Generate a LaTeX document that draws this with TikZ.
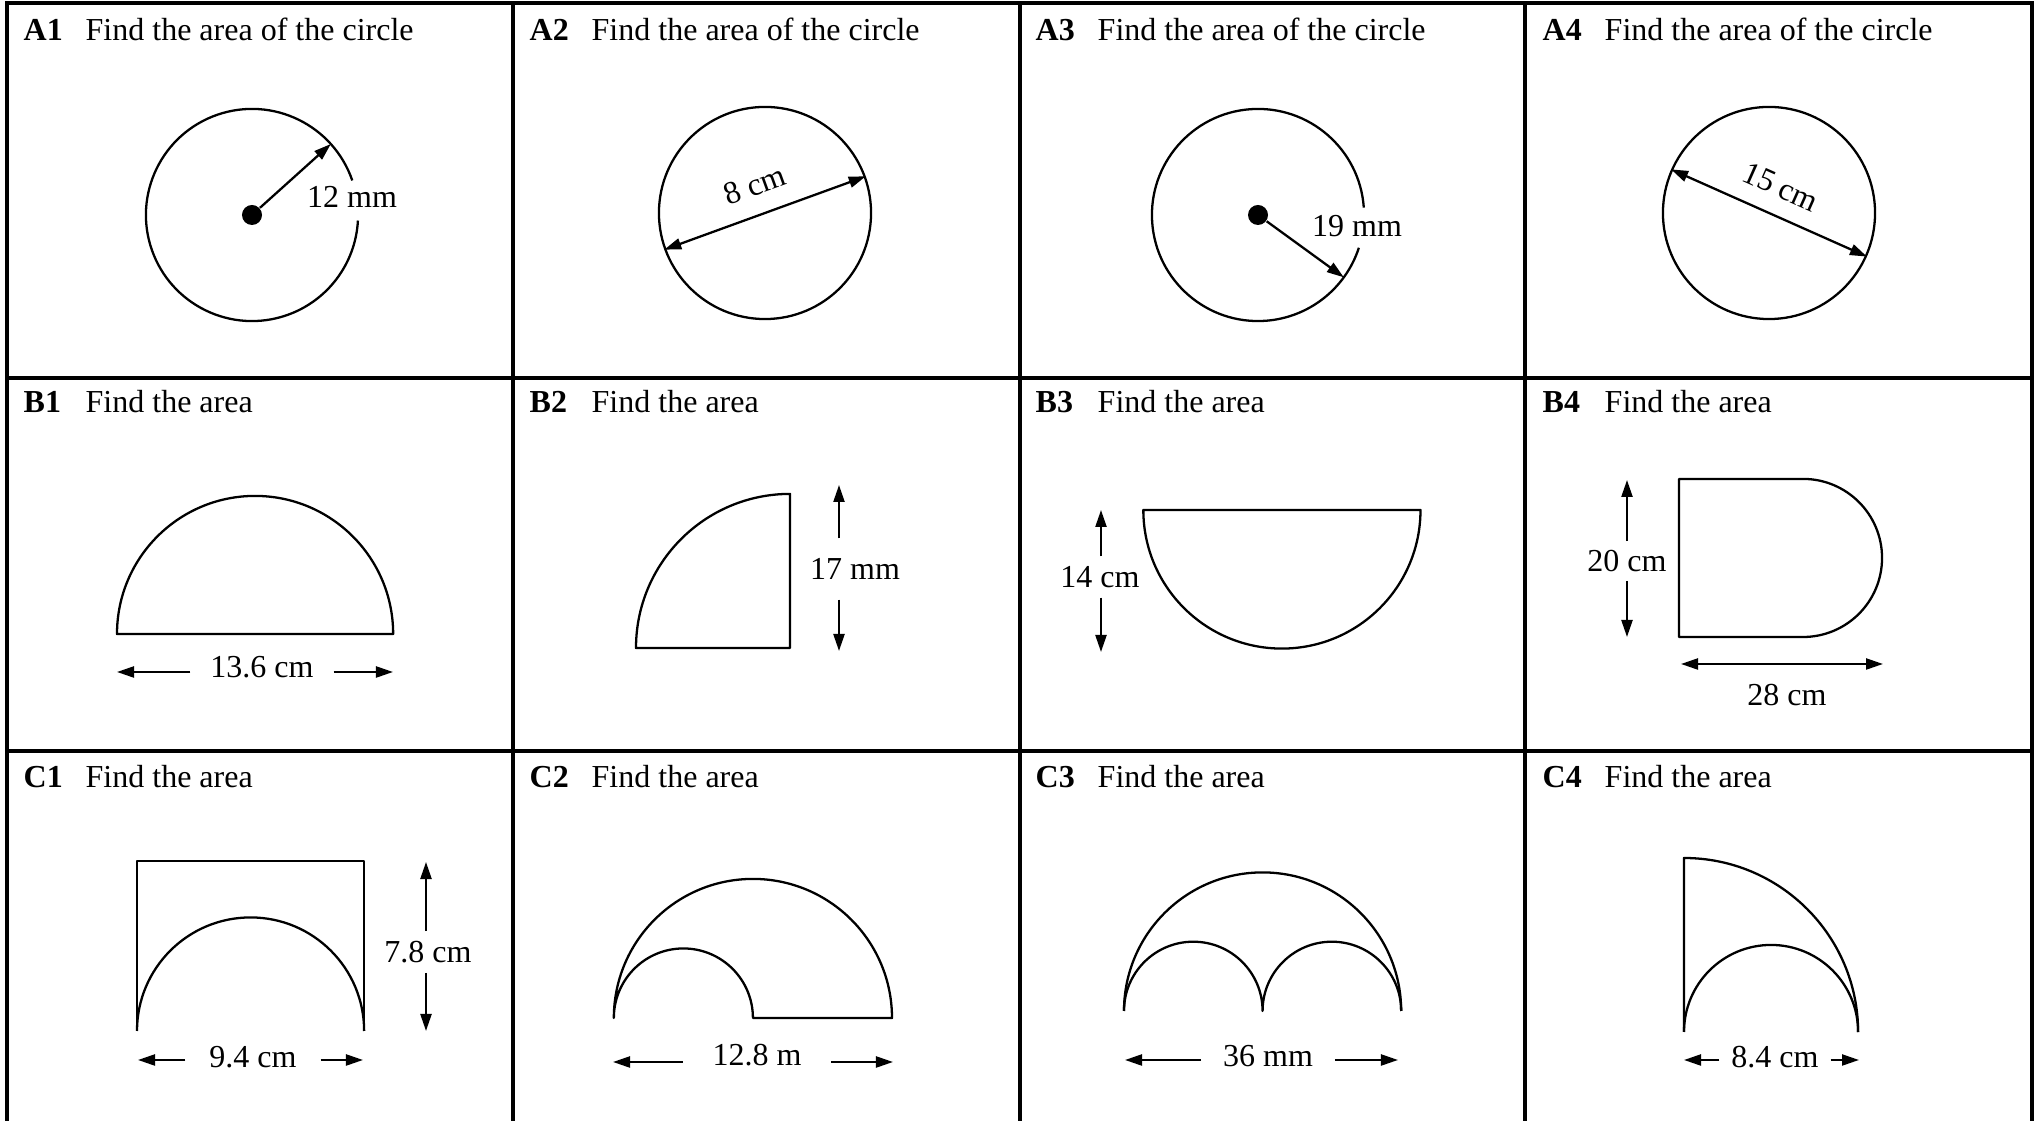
\documentclass[tikz,border=0pt]{standalone}
\usepackage{fontspec}
\setmainfont{Liberation Serif}
\usetikzlibrary{arrows.meta}

\newcommand{\sheetfont}{\fontsize{9.1pt}{11pt}\selectfont}

\tikzset{
  cellrule/.style={line width=0.9pt},
  figline/.style={line width=0.65pt, line join=round},
  arr/.style={line width=0.65pt, -{Triangle[length=0.17cm,width=0.11cm]}},
  dblarr/.style={line width=0.65pt, {Triangle[length=0.17cm,width=0.11cm]}-{Triangle[length=0.17cm,width=0.11cm]}},
  dimlab/.style={inner sep=0pt},
  qtag/.style={anchor=base west, inner sep=0pt, font=\sheetfont\bfseries},
  qtext/.style={anchor=base west, inner sep=0pt},
  centredot/.style={circle, fill, inner sep=0pt, minimum size=0.2cm},
  ring/.style={circle, draw, line width=0.65pt, inner sep=0pt, minimum size=2.12cm}
}

\begin{document}
\begin{tikzpicture}[x=0.01cm, y=0.01cm, font=\sheetfont]
  \useasboundingbox (0,0) rectangle (2035,1121);

  \draw[cellrule] (7,0) -- (7,1118) -- (2032,1118) -- (2032,0);
  \foreach \xx in {513,1020,1525} \draw[cellrule] (\xx,0) -- (\xx,1118);
  \foreach \yy in {743,370} \draw[cellrule] (7,\yy) -- (2032,\yy);

  \foreach \r/\yb/\txt in {A/1080/Find the area of the circle, B/708/Find the area, C/333/Find the area}
    \foreach \c/\xl in {1/23,2/529,3/1035,4/1542} {
      \node[qtag] (tag\r\c) at (\xl,\yb) {\r\c};
      \node[qtext] (ask\r\c) at (\xl+62,\yb) {\txt};
    }

  % A row
  \node[centredot] (a1c) at (252,906) {};
  \draw[figline] ([shift={(19:1.06cm)}]a1c.center) arc[start angle=19, end angle=357, radius=1.06cm];
  \coordinate (a1e) at ([shift={(42:1.06cm)}]a1c.center);
  \draw[arr] (a1c) -- (a1e);
  \node[dimlab] (a1lab) at (352,924) {12 mm};

  \node[ring] (a2o) at (765,908) {};
  \draw[dblarr] (a2o.200) -- (a2o.20) node[dimlab, midway, sloped, above=0.18cm] (a2lab) {8 cm};

  \node[centredot] (a3c) at (1258,906) {};
  \draw[figline] ([shift={(4:1.06cm)}]a3c.center) arc[start angle=4, end angle=342, radius=1.06cm];
  \coordinate (a3e) at ([shift={(-36:1.06cm)}]a3c.center);
  \draw[arr] (a3c) -- (a3e);
  \node[dimlab] (a3lab) at (1357,895) {19 mm};

  \node[ring] (a4o) at (1769,908) {};
  \draw[dblarr] (a4o.156) -- (a4o.-24) node[dimlab, midway, sloped, above=0.17cm] (a4lab) {15 cm};

  % B row
  \draw[figline] (117,487) arc[start angle=180, end angle=0, radius=1.38cm] -- cycle;
  \node[dimlab, outer xsep=0.2cm] (b1lab) at (262,454) {13.6 cm};
  \coordinate (b1l) at (117,449);
  \coordinate (b1r) at (393,449);
  \draw[arr] (b1lab.west |- b1l) -- (b1l);
  \draw[arr] (b1lab.east |- b1r) -- (b1r);

  \draw[figline] (636,473) arc[start angle=180, end angle=90, radius=1.54cm] -- (790,473) -- cycle;
  \node[dimlab, outer ysep=0.2cm] (b2lab) at (855,552) {17 mm};
  \coordinate (b2t) at (839,636);
  \coordinate (b2b) at (839,470);
  \draw[arr] (b2lab.north -| b2t) -- (b2t);
  \draw[arr] (b2lab.south -| b2b) -- (b2b);

  \draw[figline] (1143.5,611) -- (1420.5,611) arc[start angle=0, end angle=-180, radius=1.385cm] -- cycle;
  \node[dimlab, outer ysep=0.1cm] (b3lab) at (1100,544) {14 cm};
  \coordinate (b3t) at (1101,611);
  \coordinate (b3b) at (1101,469);
  \draw[arr] (b3lab.north -| b3t) -- (b3t);
  \draw[arr] (b3lab.south -| b3b) -- (b3b);

  \draw[figline] (1803,642) -- (1679,642) -- (1679,484) -- (1803,484) arc[start angle=-90, end angle=90, radius=0.79cm] -- cycle;
  \node[dimlab, outer ysep=0.09cm] (b4lab) at (1627,560) {20 cm};
  \coordinate (b4t) at (1627,641);
  \coordinate (b4b) at (1627,484);
  \draw[arr] (b4lab.north -| b4t) -- (b4t);
  \draw[arr] (b4lab.south -| b4b) -- (b4b);
  \coordinate (b4l) at (1681,457);
  \coordinate (b4r) at (1883,457);
  \draw[dblarr] (b4l) -- (b4r);
  \node[dimlab] (b4w) at (1787,426) {28 cm};

  % C row
  \draw[figline] (137,90) -- (137,260) -- (364,260) -- (364,90);
  \draw[figline] (137,90) arc[start angle=180, end angle=0, radius=1.135cm];
  \node[dimlab, outer ysep=0.1cm] (c1lab) at (428,169) {7.8 cm};
  \coordinate (c1t) at (426,259);
  \coordinate (c1b) at (426,90);
  \draw[arr] (c1lab.north -| c1t) -- (c1t);
  \draw[arr] (c1lab.south -| c1b) -- (c1b);
  \node[dimlab, outer xsep=0.24cm] (c1w) at (253,64) {9.4 cm};
  \coordinate (c1l) at (138,61);
  \coordinate (c1r) at (363,61);
  \draw[arr] (c1w.west |- c1l) -- (c1l);
  \draw[arr] (c1w.east |- c1r) -- (c1r);

  \draw[figline] (892,103) arc[start angle=0, end angle=180, radius=1.39cm]
    arc[start angle=180, end angle=0, radius=0.695cm] -- cycle;
  \node[dimlab, outer xsep=0.3cm] (c2w) at (757,66) {12.8 m};
  \coordinate (c2l) at (613,59);
  \coordinate (c2r) at (893,59);
  \draw[arr] (c2w.west |- c2l) -- (c2l);
  \draw[arr] (c2w.east |- c2r) -- (c2r);

  \draw[figline] (1124,110) arc[start angle=180, end angle=0, radius=1.385cm];
  \draw[figline] (1124,110) arc[start angle=180, end angle=0, radius=0.6925cm]
    arc[start angle=180, end angle=0, radius=0.6925cm];
  \node[dimlab, outer xsep=0.22cm] (c3w) at (1268,65) {36 mm};
  \coordinate (c3l) at (1125,61);
  \coordinate (c3r) at (1398,61);
  \draw[arr] (c3w.west |- c3l) -- (c3l);
  \draw[arr] (c3w.east |- c3r) -- (c3r);

  \draw[figline] (1684,89) -- (1684,263) arc[start angle=90, end angle=0, radius=1.74cm];
  \draw[figline] (1684,89) arc[start angle=180, end angle=0, radius=0.87cm];
  \node[dimlab, outer xsep=0.12cm] (c4w) at (1775,64) {8.4 cm};
  \coordinate (c4l) at (1684,61);
  \coordinate (c4r) at (1859,61);
  \draw[arr] (c4w.west |- c4l) -- (c4l);
  \draw[arr] (c4w.east |- c4r) -- (c4r);
\end{tikzpicture}
\end{document}
